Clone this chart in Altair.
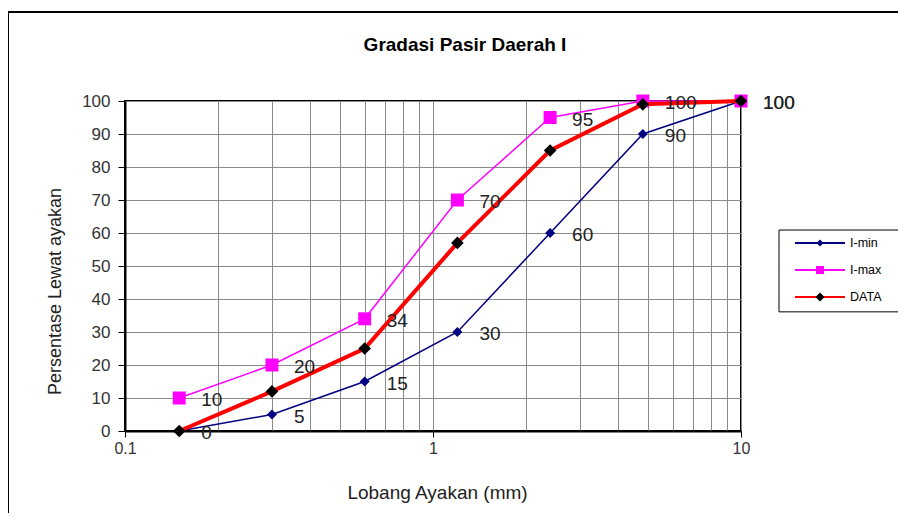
import altair as alt
import pandas as pd

# ---------------- data ----------------
title_text = "Gradasi Pasir Daerah I"
x_title = "Lobang Ayakan (mm)"
y_title = "Persentase Lewat ayakan"

sieve_mm = [0.15, 0.3, 0.6, 1.2, 2.4, 4.8, 10]
i_min = [0, 5, 15, 30, 60, 90, 100]
i_max = [10, 20, 34, 70, 95, 100, 100]
data_vals = [0, 12, 25, 57, 85, 99, 100]

series = ["I-min", "I-max", "DATA"]
x_labels = [0.1, 1, 10]
x_grid = [0.1, 0.2, 0.3, 0.4, 0.5, 0.6, 0.7, 0.8, 0.9,
          1, 2, 3, 4, 5, 6, 7, 8, 9, 10]
y_ticks = [0, 10, 20, 30, 40, 50, 60, 70, 80, 90, 100]

# ---------------- tables ----------------
rows = []
for name, vals in zip(series, [i_min, i_max, data_vals]):
    for s, v in zip(sieve_mm, vals):
        rows.append({"sieve": s, "value": v, "series": name})
df = pd.DataFrame(rows)
legend_df = pd.DataFrame({"name": series, "idx": list(range(len(series)))})
one_row = pd.DataFrame({"t": [title_text]})

FONT = "Liberation Sans"
NAVY = "#000080"
MAGENTA = "#FF00FF"
RED = "#FF0000"

label_test = "datum.value == 0.1 || datum.value == 1 || datum.value == 10"

x_enc = alt.X(
    "sieve:Q",
    scale=alt.Scale(type="log", domain=[0.1, 10]),
    axis=alt.Axis(
        values=x_grid,
        labelExpr="datum.value == 0.1 ? '0.1' : datum.value == 1 ? '1' : datum.value == 10 ? '10' : ''",
        labelOverlap=False,
        labelFlush=False,
        tickOpacity={"condition": {"test": label_test, "value": 1}, "value": 0},
        tickSize=6,
        tickColor="black",
        tickWidth=1,
        domainColor="black",
        domainWidth=2,
        grid=True,
        gridColor="#8a8a8a",
        gridWidth=1,
        labelFont=FONT,
        labelFontSize=16,
        labelColor="#333333",
        labelPadding=3,
        title=x_title,
        titleFont=FONT,
        titleFontSize=19,
        titleFontWeight="normal",
        titleColor="#222222",
        titleX=312,
        titleY=61,
        titleAlign="center",
        titleBaseline="middle",
    ),
)
y_enc = alt.Y(
    "value:Q",
    scale=alt.Scale(domain=[0, 100], nice=False),
    axis=alt.Axis(
        values=y_ticks,
        tickSize=7,
        tickColor="black",
        domainColor="black",
        domainWidth=2,
        grid=True,
        gridColor="#8a8a8a",
        gridWidth=1,
        labelFont=FONT,
        labelFontSize=17,
        labelColor="#333333",
        labelPadding=8,
        title=y_title,
        titleFont=FONT,
        titleFontSize=18,
        titleFontWeight="normal",
        titleColor="#222222",
        titleAngle=270,
        titleX=-70,
        titleY=190,
        titleAlign="center",
        titleBaseline="middle",
    ),
)

base = alt.Chart(df)

border = alt.Chart(one_row).mark_rect(
    fillOpacity=0, stroke="black", strokeWidth=2
).encode(
    x=alt.value(-117), x2=alt.value(800), y=alt.value(-89), y2=alt.value(500)
)

title_mark = alt.Chart(one_row).mark_text(
    font=FONT, fontSize=19, fontWeight="bold", color="black",
    align="center", baseline="middle"
).encode(text="t:N", x=alt.value(340), y=alt.value(-56))

styles = {
    "I-min": dict(color=NAVY, width=1.5, shape="diamond", size=100, fill=NAVY),
    "I-max": dict(color=MAGENTA, width=1.5, shape="square", size=169, fill=MAGENTA),
    "DATA": dict(color=RED, width=4, shape="diamond", size=160, fill="black"),
}

series_layers = []
for name in series:
    st = styles[name]
    sub = base.transform_filter(alt.datum.series == name)
    line = sub.mark_line(color=st["color"], strokeWidth=st["width"]).encode(
        x=x_enc, y=y_enc, order="sieve:Q"
    )
    pts = sub.mark_point(
        shape=st["shape"], size=st["size"], filled=True, fill=st["fill"],
        opacity=1, strokeWidth=0
    ).encode(x=x_enc, y=y_enc)
    series_layers += [line, pts]

labels = base.transform_filter(
    (alt.datum.series == "I-min") | (alt.datum.series == "I-max")
).mark_text(
    align="left", baseline="middle", dx=22, dy=2, font=FONT, fontSize=19,
    color="#222222"
).encode(x=x_enc, y=y_enc, text="value:Q")

main = alt.layer(border, *series_layers, labels, title_mark)

# ---------------- legend (own scales) ----------------
lx = alt.Scale(domain=[0, 1], range=[670, 720])
ly = alt.Scale(domain=[0, 2], range=[142, 196])
lg = alt.Chart(legend_df)

box = alt.Chart(one_row).mark_rect(fill="white", stroke="black", strokeWidth=1).encode(
    x=alt.X(datum=-0.32, type="quantitative", scale=lx, axis=None),
    x2=alt.X2(datum=2.1),
    y=alt.Y(datum=-0.48, type="quantitative", scale=ly, axis=None),
    y2=alt.Y2(datum=2.55),
)
leg_lines = lg.mark_rule().encode(
    x=alt.X(datum=0, type="quantitative", scale=lx, axis=None),
    x2=alt.X2(datum=1),
    y=alt.Y("idx:Q", scale=ly, axis=None),
    stroke=alt.Stroke("name:N", scale=alt.Scale(domain=series, range=[NAVY, MAGENTA, RED]), legend=None),
    strokeWidth=alt.StrokeWidth("name:N", scale=alt.Scale(domain=series, range=[2, 2, 4]), legend=None),
)
leg_pts = lg.mark_point(filled=True, opacity=1, strokeWidth=0).encode(
    x=alt.X(datum=0.5, type="quantitative", scale=lx, axis=None),
    y=alt.Y("idx:Q", scale=ly, axis=None),
    fill=alt.Fill("name:N", scale=alt.Scale(domain=series, range=[NAVY, MAGENTA, "black"]), legend=None),
    shape=alt.Shape("name:N", scale=alt.Scale(domain=series, range=["diamond", "square", "diamond"]), legend=None),
    size=alt.Size("name:N", scale=alt.Scale(domain=series, range=[50, 80, 100]), legend=None),
)
leg_text = lg.mark_text(align="left", baseline="middle", font=FONT, fontSize=12.5, color="black").encode(
    x=alt.X(datum=1.1, type="quantitative", scale=lx, axis=None),
    y=alt.Y("idx:Q", scale=ly, axis=None),
    text="name:N",
)
legend = alt.layer(box, leg_lines, leg_pts, leg_text)

chart = alt.layer(main, legend).resolve_scale(
    x="independent", y="independent"
).properties(
    width=616,
    height=330,
    autosize=alt.AutoSizeParams(type="none"),
    padding={"left": 117, "top": 93, "right": 157, "bottom": 82},
    background="white",
).configure_view(
    stroke="black", strokeWidth=2
)

chart.save("out.html", embed_options={"renderer": "svg", "actions": False})
